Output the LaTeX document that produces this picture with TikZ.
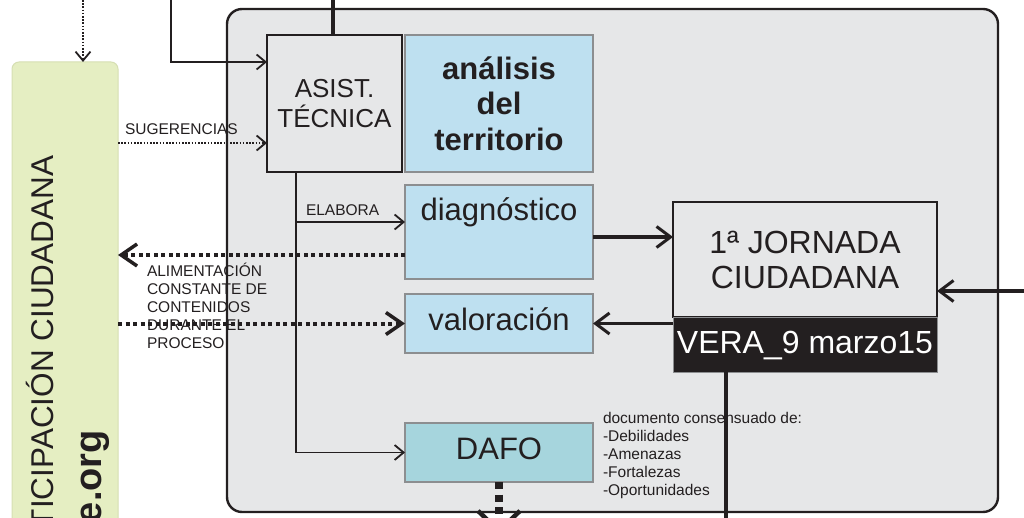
\documentclass[tikz,border=0pt]{standalone}
\usepackage{fontspec}
\setmainfont{Liberation Sans}
\usetikzlibrary{arrows.meta}
\definecolor{panelgray}{HTML}{E6E7E8}
\definecolor{boxblue}{HTML}{BEE0F0}
\definecolor{dafoteal}{HTML}{A6D5DD}
\definecolor{edgegray}{HTML}{8C8E90}
\definecolor{greenbar}{HTML}{E5EEC2}
\definecolor{greenedge}{HTML}{D6DFB3}
\definecolor{ink}{HTML}{231F20}
\begin{document}
\begin{tikzpicture}[x=1pt,y=-1pt,
  every node/.style={inner sep=0pt, outer sep=0pt, text=ink},
  panelbox/.style={fill=panelgray, minimum width=771pt, minimum height=503pt, rounded corners=15pt},
  panelborder/.style={draw=ink, line width=2.4pt, rounded corners=15pt},
  greenbox/.style={fill=greenbar, draw=greenedge, line width=1pt, minimum width=106pt, minimum height=478pt, rounded corners=7pt},
  greytext/.style={rotate=90, anchor=base west},
  darkbox/.style={draw=ink, line width=2.5pt, fill=panelgray, align=center},
  bluebox/.style={draw=edgegray, line width=2pt, fill=boxblue, minimum width=188pt, align=center},
  mainfont/.style={font=\fontsize{31}{35}\selectfont},
  onetext/.style={text height=22.5pt, text depth=8.5pt},
  lbl/.style={font=\fontsize{15.5}{17.8}\selectfont, anchor=base west, align=left},
  thinline/.style={draw=ink, line width=1.8pt},
  thinarrow/.style={thinline, -{Straight Barb[length=9pt,width=15pt,line width=1.8pt]}},
  thickline/.style={draw=ink, line width=3.2pt},
  thickarrow/.style={thickline, -{Straight Barb[length=14pt,width=21pt,line width=3pt]}},
  dotthin/.style={draw=ink, line width=1.8pt, dash pattern=on 1.6pt off 1.6pt, -{Straight Barb[length=9pt,width=15pt,line width=1.8pt]}},
  dotthick/.style={draw=ink, line width=4pt, dash pattern=on 4pt off 3.5pt, -{Straight Barb[length=16pt,width=22pt,line width=3.5pt]}},
  dafodots/.style={draw=ink, line width=7.5pt, dash pattern=on 7pt off 5.5pt, -{Straight Barb[length=20pt,width=42pt,line width=4.5pt]}}
]
\useasboundingbox (0,0) rectangle (1024,518);
\clip (0,0) rectangle (1024,518);

% background panel and side bar
\node[panelbox] (panel) at (612.5,260.5) {};
\node[greenbox] (green) at (65,301) {};
\node[greytext, font=\fontsize{31.5}{36}\selectfont] (gtext1) at (53,528) {TICIPACIÓN CIUDADANA};
\node[greytext, font=\bfseries\fontsize{38}{40}\selectfont] (gtext2) at (101,523) {e.org};

% labels (base anchor = baseline of the last line)
\node[lbl] (sug) at (125,135) {SUGERENCIAS};
\node[lbl] (elabtxt) at (306,216) {ELABORA};
\node[lbl] (alim) at (147,348) {ALIMENTACIÓN\\CONSTANTE DE\\CONTENIDOS\\DURANTE EL\\PROCESO};
\draw[panelborder] (panel.north west) rectangle (panel.south east);

% boxes
\node[darkbox, minimum width=135pt, minimum height=137pt, font=\fontsize{26}{30}\selectfont] (asist) at (334.5,103.5) {ASIST.\\TÉCNICA};
\node[bluebox, minimum height=137pt, font=\bfseries\fontsize{31}{35.5}\selectfont] (analisis) at (499,103.5) {análisis\\del\\territorio};
\node[bluebox, minimum height=94pt, mainfont, text height=22.5pt, text depth=44.5pt] (diag) at (499,232) {diagnóstico};
\node[bluebox, minimum height=59pt, mainfont, onetext] (valor) at (499,323.5) {valoración};
\node[bluebox, fill=dafoteal, minimum height=59pt, mainfont, onetext] (dafo) at (499,452.5) {DAFO};
\node[darkbox, minimum width=264pt, minimum height=115pt, font=\fontsize{32}{35}\selectfont] (jorn) at (805,259.5) {1ª JORNADA\\CIUDADANA};
\node[draw=edgegray, line width=1pt, fill=ink, text=white, minimum width=264pt, minimum height=55pt, font=\fontsize{32}{35}\selectfont, text height=23pt, text depth=6pt] (vera) at (805,344.5) {VERA\_9 marzo15};

\node[lbl] (doc) at (603,495) {documento consensuado de:\\-Debilidades\\-Amenazas\\-Fortalezas\\-Oportunidades};

% free ends
\coordinate (top1) at (171,0);
\coordinate (top2) at (83,0);
\coordinate (top3) at (333,0);
\coordinate (rightin) at (1024,291);
\coordinate (vbottom) at (726,530);
\coordinate (dbottom) at (499,534);
\coordinate (tap) at ([xshift=29pt]asist.south west);
\coordinate (in1) at ([yshift=41.5pt]asist.west);
\coordinate (sg) at ([yshift=-39.5pt]asist.west);
\coordinate (elab) at ([yshift=10pt]diag.west);
\coordinate (d1) at ([yshift=-23pt]diag.west);
\coordinate (dj) at ([yshift=-5pt]diag.east);

% connectors
\draw[thickline] (top3) -- (top3 |- asist.north);
\draw[thinarrow] (top1) |- (in1);
\draw[dotthin] (top2) -- (top2 |- green.north);
\draw[dotthin] (sg -| green.east) -- (sg);
\draw[thinarrow] (tap) |- (dafo.west);
\draw[thinarrow] (elab -| tap) -- (elab);
\draw[dotthick] (d1) -- (d1 -| green.east);
\draw[dotthick] (green.east |- valor.west) -- (valor.west);
\draw[thickarrow] (dj) -- (dj -| jorn.west);
\draw[thickarrow] (valor.east -| jorn.west) -- (valor.east);
\draw[thickarrow] (rightin) -- (rightin -| jorn.east);
\draw[thickline] (vbottom |- vera.south) -- (vbottom);
\draw[dafodots] (dafo.south) -- (dbottom);
\end{tikzpicture}
\end{document}
